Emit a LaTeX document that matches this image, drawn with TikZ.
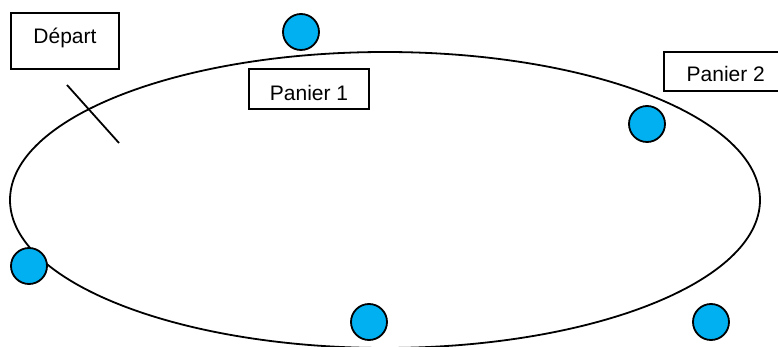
\documentclass[tikz,border=0pt]{standalone}
\usepackage{fontspec}
\setmainfont{Liberation Sans}
\usepackage{tikz}
\definecolor{ballblue}{RGB}{0,176,240}

\begin{document}
\begin{tikzpicture}[x=0.5pt,y=-0.5pt,
    ball/.style={circle,draw,line width=0.9pt,fill=ballblue,minimum size=18pt,inner sep=0pt},
    tag/.style={draw,line width=0.8pt,fill=white,inner sep=0pt,
                font=\fontsize{10.5}{12}\selectfont}]
  \useasboundingbox (0,0) rectangle (778,347);

  % track
  \draw[line width=0.9pt] (385,200) ellipse [x radius=187.5pt, y radius=74pt];
  \draw[line width=0.9pt] (67,85) -- (119,143);

  \node[tag,minimum width=54pt,minimum height=28pt,text depth=5.2pt]    (depart)  at (65,41)   {Départ};
  \node[tag,minimum width=60pt,minimum height=20pt,text height=11.6pt]  (panier1) at (309,89)  {Panier 1};
  \node[tag,minimum width=62pt,minimum height=19.5pt,text height=10.1pt,anchor=west] (panier2) at (663,71.5) {Panier 2};

  \node[ball] (b1) at (301,32)  {};
  \node[ball] (b2) at (647,124) {};
  \node[ball] (b3) at (29,266)  {};
  \node[ball] (b4) at (369,322) {};
  \node[ball] (b5) at (711,322) {};
\end{tikzpicture}
\end{document}
